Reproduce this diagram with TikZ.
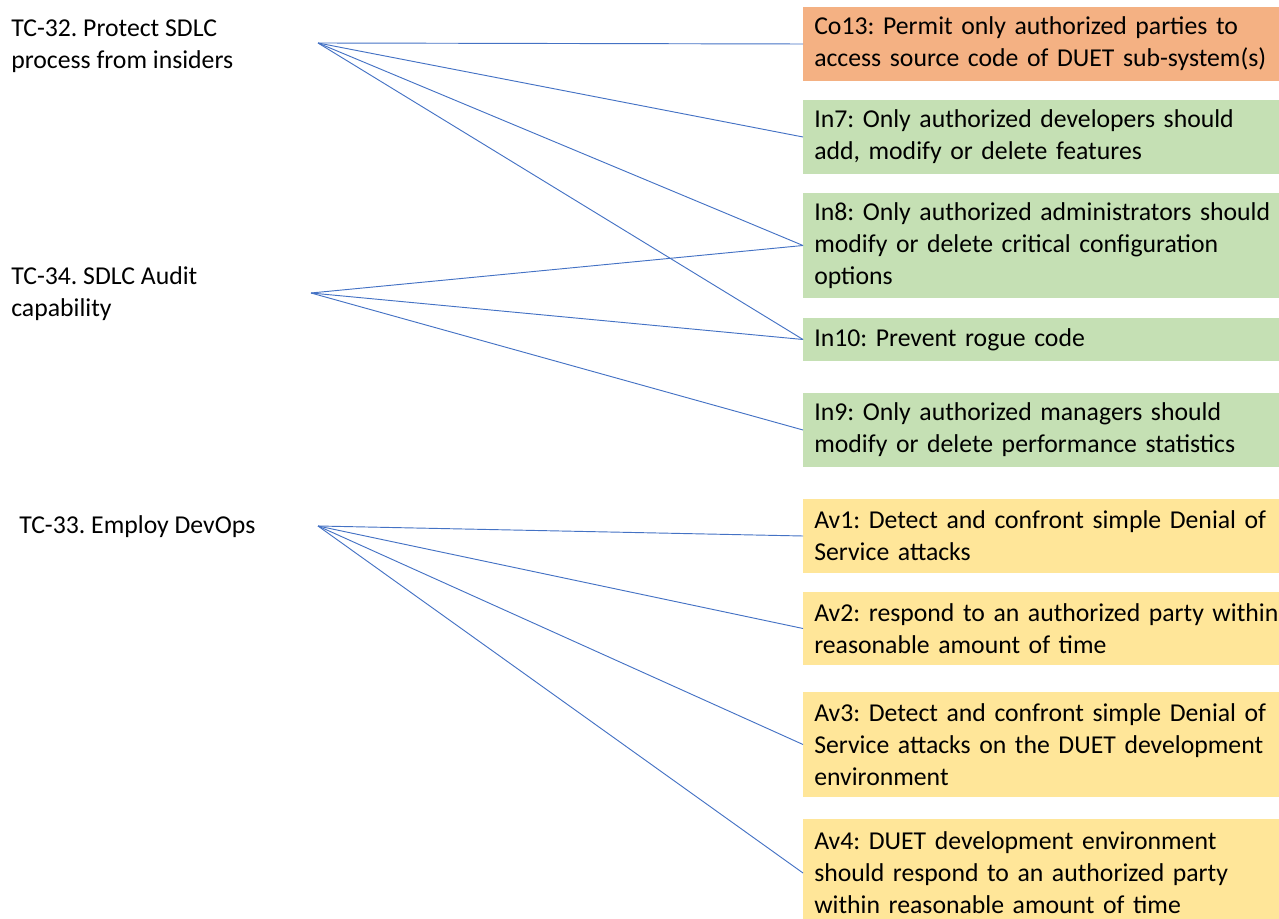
\documentclass[tikz,border=0pt]{standalone}
\usepackage{fontspec}
\setmainfont{Carlito}
\frenchspacing
\definecolor{coorange}{HTML}{F4B183}
\definecolor{ingreen}{HTML}{C5E0B4}
\definecolor{avyellow}{HTML}{FFE699}
\definecolor{linkblue}{HTML}{4472C4}
\begin{document}
\begin{tikzpicture}[x=0.75pt,y=-0.75pt,
  every node/.style={font=\fontsize{19.3}{24}\selectfont},
  req/.style={anchor=west,rectangle,draw=none,minimum width=360pt,
    text width=380pt,inner xsep=8.25pt,inner ysep=0pt,align=left},
  conf/.style={req,fill=coorange},
  integ/.style={req,fill=ingreen},
  avail/.style={req,fill=avyellow},
  goal/.style={anchor=west,align=left,inner sep=0pt},
  link/.style={draw=linkblue,line width=0.7pt}]
\useasboundingbox (0,0) rectangle (1279,919);

% threat-control labels
\node[goal] (tc32) at (11,46) {TC-32. Protect SDLC\\process from insiders};
\node[goal] (tc34) at (11,294) {TC-34. SDLC Audit\\capability};
\node[goal] (tc33) at (19,527) {TC-33. Employ DevOps};

% fan-out points of the connectors
\coordinate (p32) at (318,43);
\coordinate (p34) at (311,293);
\coordinate (p33) at (318,526);

% requirement boxes
\node[conf,minimum height=55.5pt] (co13) at (803,44)
  {Co13: Permit only authorized parties to\\access source code of DUET sub-system(s)};
\node[integ,minimum height=55.5pt] (in7) at (803,137)
  {In7: Only authorized developers should\\add, modify or delete features};
\node[integ,minimum height=78.75pt] (in8) at (803,245.5)
  {In8: Only authorized administrators should\\modify or delete critical configuration\\options};
\node[integ,minimum height=32.25pt] (in10) at (803,339.5)
  {In10: Prevent rogue code};
\node[integ,minimum height=55.5pt] (in9) at (803,430)
  {In9: Only authorized managers should\\modify or delete performance statistics};
\node[avail,minimum height=55.5pt] (av1) at (803,536)
  {Av1: Detect and confront simple Denial of\\Service attacks};
\node[avail,minimum height=55pt] (av2) at (803,628.5)
  {Av2: respond to an authorized party within\\reasonable amount of time};
\node[avail,minimum height=78.75pt] (av3) at (803,744.5)
  {Av3: Detect and confront simple Denial of\\Service attacks on the DUET development\\environment};
\node[avail,minimum height=81pt] (av4) at (803,873)
  {Av4: DUET development environment\\should respond to an authorized party\\within reasonable amount of time};

% connectors
\draw[link] (p32) -- (co13.west);
\draw[link] (p32) -- (in7.west);
\draw[link] (p32) -- (in8.west);
\draw[link] (p32) -- (in10.west);
\draw[link] (p34) -- (in8.west);
\draw[link] (p34) -- (in10.west);
\draw[link] (p34) -- (in9.west);
\draw[link] (p33) -- (av1.west);
\draw[link] (p33) -- (av2.west);
\draw[link] (p33) -- (av3.west);
\draw[link] (p33) -- (av4.west);
\end{tikzpicture}
\end{document}
